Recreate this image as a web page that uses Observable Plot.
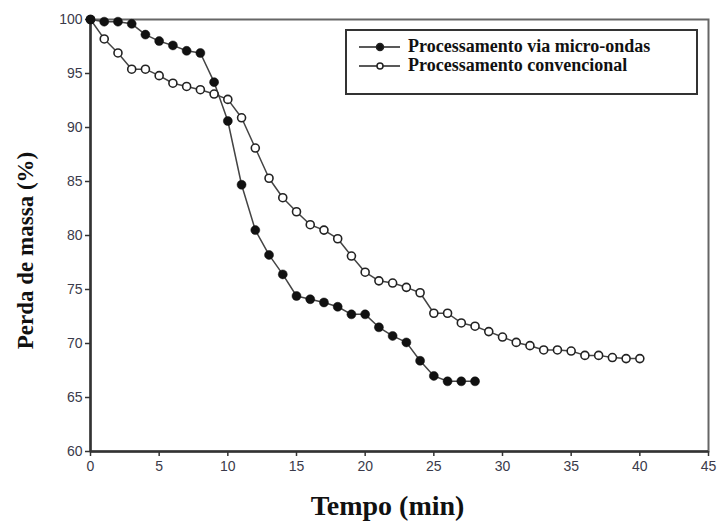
<!DOCTYPE html>
<html><head><meta charset="utf-8">
<script src="https://cdn.jsdelivr.net/npm/d3@7"></script>
<script src="https://cdn.jsdelivr.net/npm/@observablehq/plot@0.6"></script>
<style>
body{margin:0;background:#fff;}
#wrap{position:relative;width:722px;height:523px;}
#legend{position:absolute;left:345px;top:29px;width:353px;height:66px;border:2px solid #333;background:#fff;box-sizing:border-box;padding:6px 0 0 11px;}
.row{display:flex;align-items:center;height:19px;line-height:19px;font-family:"Liberation Serif","Times New Roman",serif;font-weight:bold;font-size:18px;color:#111;}
.row svg{margin-right:7px;}
</style></head><body><div id="wrap"></div>
<script>
// Microwave processing (filled circles)
const tempoMicro = [0,1,2,3,4,5,6,7,8,9,10,11,12,13,14,15,16,17,18,19,20,21,22,23,24,25,26,27,28];
const massaMicro = [100,99.8,99.8,99.6,98.6,98.0,97.6,97.1,96.9,94.2,90.6,84.7,80.5,78.2,76.4,74.4,74.1,73.8,73.4,72.7,72.7,71.5,70.7,70.1,68.4,67.0,66.5,66.5,66.5];
// Conventional processing (open circles)
const tempoConv = [0,1,2,3,4,5,6,7,8,9,10,11,12,13,14,15,16,17,18,19,20,21,22,23,24,25,26,27,28,29,30,31,32,33,34,35,36,37,38,39,40];
const massaConv = [100,98.2,96.9,95.4,95.4,94.8,94.1,93.8,93.5,93.1,92.6,90.9,88.1,85.3,83.5,82.2,81.0,80.5,79.7,78.1,76.6,75.8,75.6,75.2,74.7,72.8,72.8,71.9,71.6,71.1,70.6,70.1,69.8,69.4,69.4,69.3,68.9,68.9,68.7,68.6,68.6];
const xTicks = [0,5,10,15,20,25,30,35,40,45];
const yTicks = [60,65,70,75,80,85,90,95,100];
const seriesNames = ["Processamento via micro-ondas","Processamento convencional"];
const xLabel = "Tempo (min)";
const yLabel = "Perda de massa (%)";

const micro = tempoMicro.map((t,i)=>({t, m: massaMicro[i]}));
const conv = tempoConv.map((t,i)=>({t, m: massaConv[i]}));

const chart = Plot.plot({
  width: 722, height: 523,
  marginLeft: 90, marginRight: 14, marginTop: 19, marginBottom: 72,
  x: {domain: [0,45]},
  y: {domain: [60,100]},
  style: {background: "white"},
  marks: [
    Plot.frame({stroke: "#666", strokeWidth: 2}),
    Plot.axisX({ticks: xTicks, tickSize: 5, tickPadding: 5, fontSize: 14, fontFamily: "Liberation Sans, Arial, sans-serif", color: "#3a3a4a", label: null, stroke: "#333", strokeWidth: 1.5}),
    Plot.axisY({ticks: yTicks, tickSize: 5, tickPadding: 3, fontSize: 14, fontFamily: "Liberation Sans, Arial, sans-serif", color: "#3a3a4a", label: null, stroke: "#333", strokeWidth: 1.5}),
    Plot.ruleX([0], {stroke: "#333", strokeWidth: 2.5}),
    Plot.ruleY([60], {stroke: "#333", strokeWidth: 2.5}),
    Plot.line(conv, {x: "t", y: "m", stroke: "#444", strokeWidth: 1.5}),
    Plot.line(micro, {x: "t", y: "m", stroke: "#444", strokeWidth: 1.5}),
    Plot.dot(conv, {x: "t", y: "m", r: 4, fill: "white", stroke: "#222", strokeWidth: 1.6}),
    Plot.dot(micro, {x: "t", y: "m", r: 4.5, fill: "#111", stroke: "#111", strokeWidth: 0.5}),
    Plot.text([yLabel], {frameAnchor: "left", textAnchor: "middle", lineAnchor: "middle", text: d => d, rotate: -90, dx: -65, dy: 15, fontSize: 23, fontWeight: "bold", fontFamily: "Liberation Serif, Times New Roman, serif", fill: "#111"}),
    Plot.text([xLabel], {frameAnchor: "bottom", textAnchor: "middle", lineAnchor: "middle", text: d => d, dy: 55, dx: -12, fontSize: 28, fontWeight: "bold", fontFamily: "Liberation Serif, Times New Roman, serif", fill: "#111"})
  ]
});
const wrap = document.getElementById("wrap");
wrap.appendChild(chart);

const legend = document.createElement("div");
legend.id = "legend";
seriesNames.forEach((name, i) => {
  const row = document.createElement("div");
  row.className = "row";
  const fill = i === 0 ? "#111" : "white";
  const r = i === 0 ? 3.5 : 3;
  row.innerHTML = `<svg width="43" height="12"><line x1="1" y1="6" x2="42" y2="6" stroke="#222" stroke-width="1.6"/><circle cx="22" cy="6" r="${r}" fill="${fill}" stroke="#222" stroke-width="1.5"/></svg><span></span>`;
  row.querySelector("span").textContent = name;
  legend.appendChild(row);
});
wrap.appendChild(legend);
</script>
</body></html>
